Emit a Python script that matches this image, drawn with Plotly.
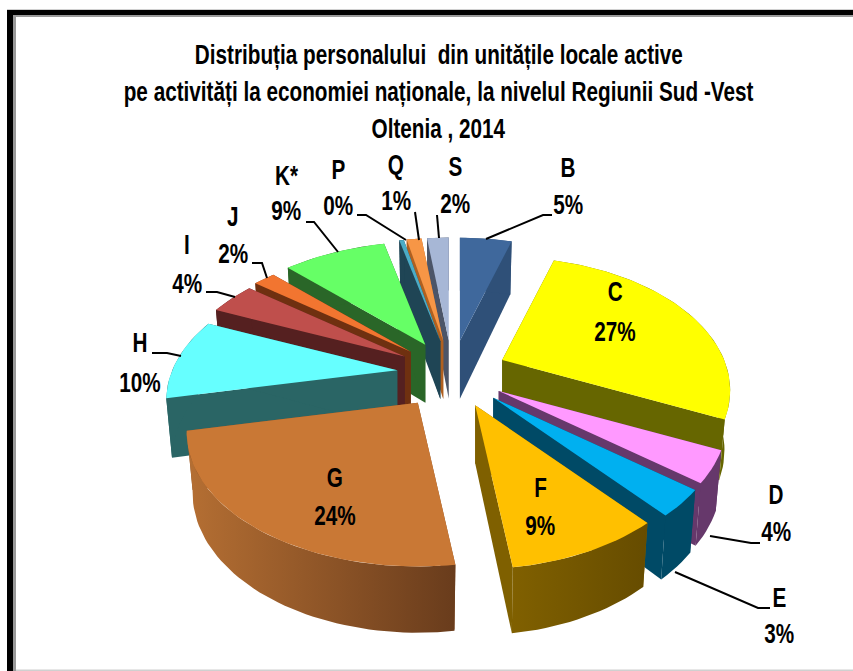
import math
import plotly.graph_objects as go

categories = ["B", "C", "D", "E", "F", "G", "H", "I", "J", "K*", "P", "Q", "S"]
values = [4.6, 27.5, 3.8, 3.2, 9.0, 23.8, 10.0, 4.0, 1.9, 9.0, 0.4, 1.3, 1.9]
shown_pct = [5, 27, 4, 3, 9, 24, 10, 4, 2, 9, 0, 1, 2]
pull_factor = [1, 1, 1, 1.05, 1.05, 1.08, 1, 1, 1, 1, 1, 1, 1]
top_colors = ["#3F689C", "#FFFF00", "#FF99FF", "#00B0F0", "#FFC000", "#C97835", "#66FFFF",
              "#BF4F4C", "#F27530", "#66FF66", "#4BACC6", "#F79646", "#A7B7D6"]
side_colors = ["#2F5078", "#666600", "#66386B", "#004A66", "#7F6000", "#8A5228", "#2A6565",
               "#552020", "#6F3010", "#2A6628", "#1F4555", "#B06020", "#4C5568"]
wall_grad = {"F": ("#806000", "#664C00"), "G": ("#B56F33", "#693C1C")}
title_lines = ["Distribuția personalului  din unitățile locale active",
               "pe activități la economiei naționale, la nivelul Regiunii Sud -Vest",
               "Oltenia , 2014"]

# label layout: name -> (x, y of name, y of percent)
label_pos = {"B": (568, 167, 204), "C": (615, 291, 331), "D": (776, 494, 531), "E": (779, 597, 633),
             "F": (540, 487, 525), "G": (335, 477, 515), "H": (140, 342, 382), "I": (187, 244, 283),
             "J": (233, 216, 253), "K*": (286, 175, 210), "P": (338, 169, 205), "Q": (396, 164, 200),
             "S": (455, 166, 203)}
leaders = [[(552, 215), (543, 215), (486, 239)], [(306, 222), (314, 222), (338, 252)],
           [(357, 215), (366, 215), (406, 240)], [(415, 212), (419, 240)], [(437, 215), (439, 238)],
           [(252, 263), (262, 263), (267, 278)], [(206, 292), (217, 292), (235, 297)],
           [(152, 353), (167, 353), (181, 356)],
           [(710, 536), (751, 543), (760, 543)], [(675, 572), (758, 608), (770, 608)]]

FONT = "Liberation Sans, Arial, sans-serif"
CX, CY = 452, 373.5
RX_LEFT, RX_RIGHT, RY, K = 225, 222, 126.5, 0.228
PULL_X, PULL_Y = 55, 33
DEPTH, DEPTH_SLOPE, SHRINK = 58, 0.05, 0.975


def proj(angle):
    X, Y = math.sin(angle), -math.cos(angle)
    w = 1 / (1 - K * Y)
    return (RX_RIGHT if X > 0 else RX_LEFT) * X * w, RY * Y * w


def down(apex, d):
    return (apex[0] + d[0] * SHRINK, apex[1] + d[1] + DEPTH + DEPTH_SLOPE * d[1])


total = sum(values)
slices, a = [], 0.0
for name, v, ct, cs, pf in zip(categories, values, top_colors, side_colors, pull_factor):
    sweep = v / total * 2 * math.pi
    mid = a + sweep / 2
    apex = (CX + pf * PULL_X * math.sin(mid), CY - pf * PULL_Y * math.cos(mid))
    slices.append(dict(name=name, a0=a, a1=a + sweep, mid=mid, apex=apex, ct=ct, cs=cs))
    a += sweep

fig = go.Figure()


def poly(points, color, grad=None):
    kw = dict(fillgradient=dict(type="horizontal", colorscale=[[0, grad[0]], [1, grad[1]]])) if grad else dict(fillcolor=color)
    fig.add_trace(go.Scatter(x=[p[0] for p in points], y=[p[1] for p in points], mode="lines",
                             fill="toself", line=dict(width=0, color=color), hoverinfo="skip",
                             showlegend=False, **kw))


for s in sorted(slices, key=lambda s: -math.cos(s["mid"])):
    ap = s["apex"]
    n = max(4, int((s["a1"] - s["a0"]) / 0.03))
    angs = [s["a0"] + (s["a1"] - s["a0"]) * i / n for i in range(n + 1)]
    ds = [proj(t) for t in angs]
    top = [(ap[0] + d[0], ap[1] + d[1]) for d in ds]
    bot = [down(ap, d) for d in ds]
    ap_b = down(ap, (0, 0))
    # radial walls
    poly([ap, top[0], bot[0], ap_b], s["cs"])
    poly([ap, top[-1], bot[-1], ap_b], s["cs"])
    # outer wall
    poly(top + bot[::-1], s["cs"], wall_grad.get(s["name"]))
    # top face
    poly([ap] + top, s["ct"])

for pts in leaders:
    fig.add_trace(go.Scatter(x=[p[0] for p in pts], y=[p[1] for p in pts], mode="lines",
                             line=dict(color="black", width=2), hoverinfo="skip", showlegend=False))

ann = []
for name, pct in zip(categories, shown_pct):
    x, y1, y2 = label_pos[name]
    ann.append(dict(x=x, y=y1, text=f"<b>{name}</b>", showarrow=False, xanchor="center", yanchor="middle",
                    font=dict(family=FONT, size=28, color="black")))
    ann.append(dict(x=x, y=y2, text=f"<b>{pct}%</b>", showarrow=False, xanchor="center", yanchor="middle",
                    font=dict(family=FONT, size=28, color="black")))
for t, y in zip(title_lines, (54, 91, 128)):
    ann.append(dict(x=438.5, y=y, text=f"<b>{t}</b>", showarrow=False, xanchor="center", yanchor="middle",
                    font=dict(family=FONT, size=28, color="black")))

shapes = [
    dict(type="rect", x0=7, x1=853, y0=9, y1=10, fillcolor="#D0D0D0", line_width=0),
    dict(type="rect", x0=13, x1=16, y0=15, y1=671, fillcolor="#999999", line_width=0),
    dict(type="rect", x0=13, x1=853, y0=15, y1=17, fillcolor="#999999", line_width=0),
    dict(type="rect", x0=7, x1=13, y0=10, y1=671, fillcolor="black", line_width=0),
    dict(type="rect", x0=7, x1=853, y0=10, y1=15, fillcolor="black", line_width=0),
    dict(type="rect", x0=16, x1=853, y0=669.5, y1=671, fillcolor="#D0D0D0", line_width=0),
]
fig.update_layout(width=853, height=671, margin=dict(l=0, r=0, t=0, b=0), paper_bgcolor="white",
                  plot_bgcolor="white", showlegend=False, annotations=ann, shapes=shapes,
                  xaxis=dict(range=[0, 853], visible=False, fixedrange=True),
                  yaxis=dict(range=[671, 0], visible=False, fixedrange=True))
post = """
document.body.style.margin = '0';
document.querySelectorAll('.annotation-text').forEach(function (t) {
  t.style.transformBox = 'fill-box';
  t.style.transformOrigin = 'center';
  t.style.transform = 'scaleX(0.74)';
});
"""
fig.write_html("out.html", config={"displayModeBar": False}, post_script=post)
